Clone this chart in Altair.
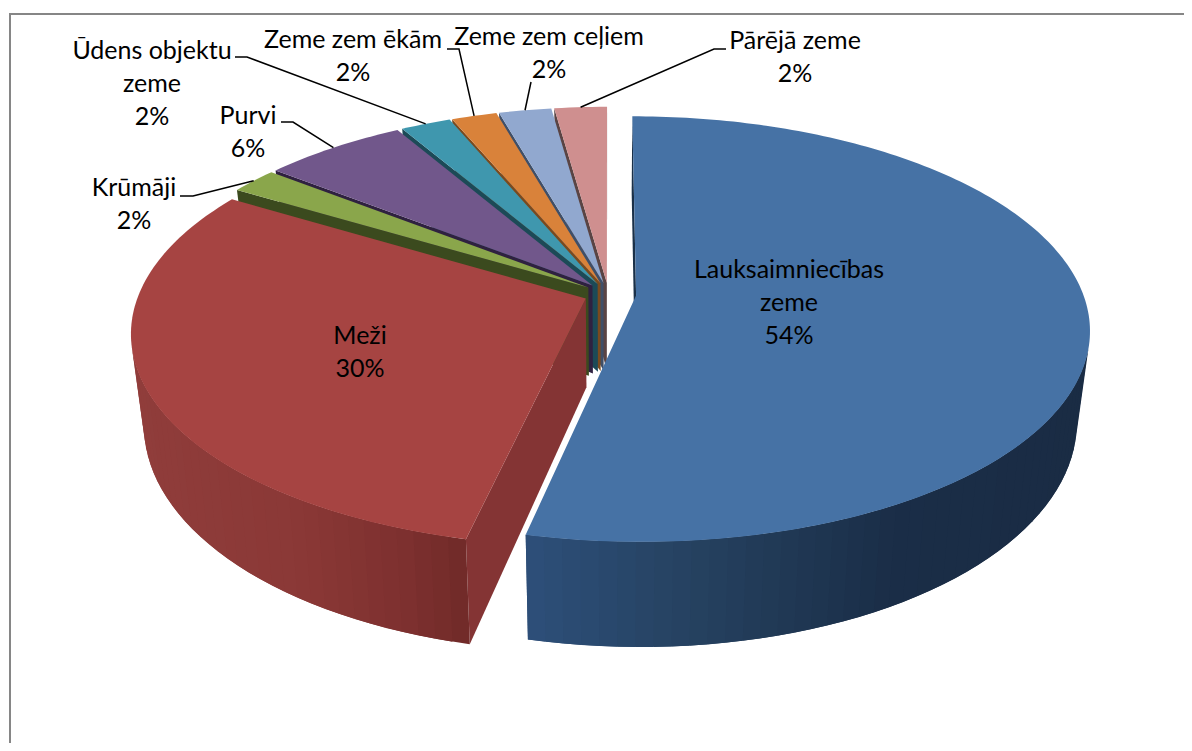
import math
import altair as alt

# --- chart values ---
names = ["Lauksaimniecības\nzeme", "Meži", "Krūmāji", "Purvi", "Ūdens objektu\nzeme",
         "Zeme zem ēkām", "Zeme zem ceļiem", "Pārējā zeme"]
percent_labels = [54, 30, 2, 6, 2, 2, 2, 2]
# slice sizes (the printed labels are rounded)
shares = [53.5, 30.1, 2.0, 6.0, 2.1, 1.9, 2.2, 2.2]
top_colors = ["#4672a5", "#a64442", "#8aa64b", "#71578b", "#3f97ae", "#d9823a", "#91a8cf", "#cf8f8f"]
face_colors = ["#1a3048", "#843434", "#3b4a1e", "#2f2140", "#1c4a57", "#7a4a1e", "#3f4f68", "#5a4444"]
wall_stops = {
    0: [(527, "#2d4f79"), (700, "#25415f"), (900, "#1a2d47"), (1090, "#1a2c44")],
    1: [(130, "#903d3b"), (300, "#8a3836"), (400, "#7e302f"), (470, "#6f2a28")],
}
label_anchors = [(789, 270), (360, 336), (134, 188), (248, 116), (152, 51), (353, 40), (549, 37), (795, 41)]
leader_elbows = {
    2: [(180, 196), (193, 196)],
    3: [(281, 122), (293, 122)],
    4: [(235, 57), (247, 57)],
    5: [(447, 49), (459, 49)],
    6: [(531, 82)],
    7: [(726, 49), (714, 49)],
}

# --- layout of the 3D pie ---
X0, Y0 = 608.5, 294
F, G, P_, D, K = 447, 207, 0.158, 88.5, 0.973
EXPLODE = [0.062, 0.055, 0.055, 0.055, 0.055, 0.055, 0.055, 0.055]


def project(theta, r, mid, explode, bottom=False):
    X = r * math.sin(theta) + explode * math.sin(mid)
    Z = r * math.cos(theta) + explode * math.cos(mid)
    w = 1 + P_ * Z
    x, y = F * X / w, -G * Z / w
    if bottom:
        x *= K
        y += D / w
    return [round(X0 + x, 2), round(Y0 + y, 2)]


def hex2rgb(c):
    return [int(c[i:i + 2], 16) for i in (1, 3, 5)]


def wall_color(i, x):
    stops = wall_stops.get(i)
    if not stops:
        return face_colors[i]
    if x <= stops[0][0]:
        return stops[0][1]
    for (x1, c1), (x2, c2) in zip(stops, stops[1:]):
        if x <= x2:
            t = (x - x1) / (x2 - x1)
            a, b = hex2rgb(c1), hex2rgb(c2)
            return "#%02x%02x%02x" % tuple(round(u + (v - u) * t) for u, v in zip(a, b))
    return stops[-1][1]


def front_facing(q):
    s = 0
    for a, b in zip(q, q[1:] + q[:1]):
        s += a[0] * b[1] - b[0] * a[1]
    return s < 0


def poly(points, color):
    ring = points + [points[0]]
    return {"type": "Feature", "properties": {"fill": color},
            "geometry": {"type": "Polygon", "coordinates": [ring]}}


def line(points, color):
    return {"type": "Feature", "properties": {"stroke": color},
            "geometry": {"type": "LineString", "coordinates": points}}


cum = [0]
for s in shares:
    cum.append(cum[-1] + s)
bounds = [(cum[i] * 2 * math.pi / 100, cum[i + 1] * 2 * math.pi / 100) for i in range(len(shares))]
mids = [(a + b) / 2 for a, b in bounds]

features = []
for i in [7, 6, 5, 4, 3, 2, 1, 0]:
    a, b = bounds[i]
    m = mids[i]
    e = EXPLODE[i]
    # radial faces
    for t1, r1, t2, r2 in [(b, 1, b, 0), (a, 0, a, 1)]:
        q = [project(t1, r1, m, e), project(t2, r2, m, e), project(t2, r2, m, e, True), project(t1, r1, m, e, True)]
        if front_facing(q):
            features.append(poly(q, face_colors[i]))
    # outer wall, drawn as narrow overlapping bands
    n = max(3, int((b - a) / math.radians(2)))
    ts = [a + (b - a) * j / n for j in range(n + 1)]
    for j, (t1, t2) in enumerate(zip(ts, ts[1:])):
        q = [project(t1, 1, m, e), project(t2, 1, m, e), project(t2, 1, m, e, True), project(t1, 1, m, e, True)]
        if front_facing(q):
            t3 = ts[min(j + 2, n)]
            wide = [q[0], project(t3, 1, m, e), project(t3, 1, m, e, True), q[3]]
            features.append(poly(wide, wall_color(i, (q[0][0] + q[1][0]) / 2)))
    # top surface
    n = max(6, int((b - a) / math.radians(1)))
    rim = [project(a + (b - a) * j / n, 1, m, e) for j in range(n + 1)]
    features.append(poly([project(0, 0, m, e)] + rim, top_colors[i]))

FR_L, FR_T, FR_R, FR_B = 10, 14, 1194, 760
frame_lines = [line([[FR_L, FR_B], [FR_L, FR_T], [FR_R, FR_T]], "#868686")]
leader_lines = []
for i, pts in leader_elbows.items():
    leader_lines.append(line([list(p) for p in pts] + [project(mids[i], 1, mids[i], EXPLODE[i])], "#000000"))

labels = [{"text": f"{n}\n{s}%", "x": c[0] - 8, "y": c[1] - 8}
          for n, s, c in zip(names, percent_labels, label_anchors)]


def fc(feats):
    return alt.InlineData(values={"type": "FeatureCollection", "features": feats},
                          format=alt.DataFormat(property="features", type="json"))


proj = dict(type="identity", scale=1, translate=[-8, -8])

frame = alt.Chart(fc(frame_lines)).mark_geoshape(filled=False, stroke="#868686", strokeWidth=2).project(**proj)
slices = alt.Chart(fc(features)).mark_geoshape(strokeWidth=0).encode(
    fill=alt.Fill("properties.fill:N", scale=None),
).project(**proj)
leaders = alt.Chart(fc(leader_lines)).mark_geoshape(filled=False, stroke="#000000", strokeWidth=1.5).project(**proj)
text = alt.Chart(alt.Data(values=labels)).mark_text(
    font="Lato", fontSize=25, lineBreak="\n", lineHeight=33, align="center", baseline="middle", color="#000000"
).encode(
    x=alt.X("x:Q", scale=None, axis=None),
    y=alt.Y("y:Q", scale=None, axis=None),
    text="text:N",
)

chart = alt.layer(frame, slices, leaders, text).properties(
    width=1176, height=735, padding=0, autosize=alt.AutoSizeParams(type="none"),
    background="#ffffff",
).configure_view(stroke=None)

chart.save("out.html", embed_options={"renderer": "svg", "actions": False})
